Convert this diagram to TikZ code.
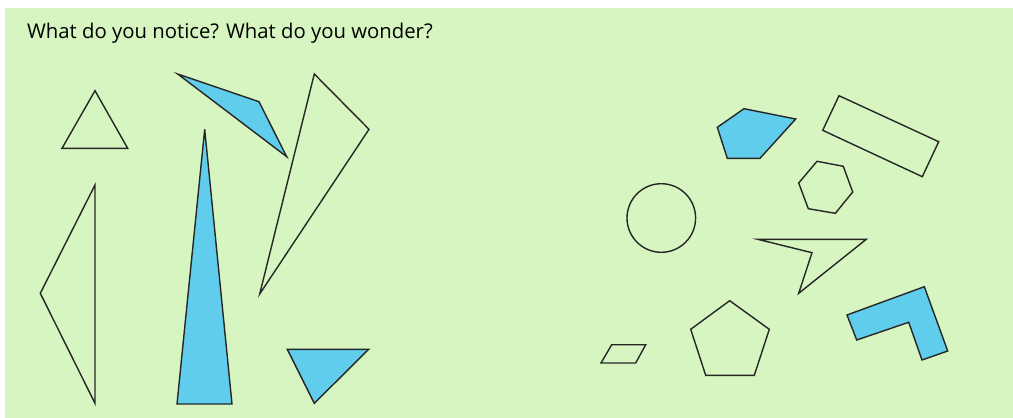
\documentclass[tikz,border=0pt]{standalone}
\usepackage{fontspec}
\setmainfont{Open Sans}
\usepackage{tikz}
\definecolor{bggreen}{RGB}{215,245,192}
\definecolor{shapeblue}{RGB}{96,205,236}

\begin{document}
\begin{tikzpicture}[x=1pt,y=-1pt,
      shp/.style={draw=black!85,line width=1.4pt,line join=miter},
      blue/.style={shp,fill=shapeblue},
      ttl/.style={anchor=base west,inner sep=0pt,font=\fontsize{20.3}{24}\selectfont}]
    \useasboundingbox (0,0) rectangle (1013,418);
    \fill[bggreen] (5,8) rectangle (1013,418);
    \node[ttl] (title) at (27,38.5) {What do you notice? What do you wonder?};
    % triangles on the left
    \draw[shp]  (95,90.7) -- (127.7,148.3) -- (62,148.3) -- cycle;
    \draw[shp]  (95,185) -- (95,403.3) -- (40.3,293.3) -- cycle;
    \draw[blue] (204.7,129.3) -- (232,404) -- (177,404) -- cycle;
    \draw[blue] (177.7,74) -- (259,101.7) -- (286.7,156.7) -- cycle;
    \draw[shp]  (314.3,74) -- (369,129.3) -- (259.7,294) -- cycle;
    \draw[blue] (287.3,349.3) -- (368.7,349.3) -- (314.3,403.3) -- cycle;
    % shapes on the right
    \draw[blue] (717.3,127.3) -- (744,108.7) -- (795.7,119) -- (760,158.3) -- (727.3,158.3) -- cycle;
    \draw[shp]  (839,95.7) -- (938.7,141.7) -- (922.3,176.7) -- (822.7,130.3) -- cycle;
    \draw[shp]  (817,161.3) -- (843.3,166.3) -- (852.7,192) -- (835.3,213.3) -- (808.3,208.7) -- (798.7,183) -- cycle;
    \draw[shp]  (661.3,218) circle[radius=34.3];
    \draw[shp]  (757.7,239.3) -- (866.3,239.3) -- (798.7,293.3) -- (812,252.7) -- cycle;
    \draw[blue] (847,315) -- (924.3,286.7) -- (947.7,351) -- (922,360) -- (908.7,322.3) -- (856.7,340) -- cycle;
    \draw[shp]  (729.7,300.7) -- (769.3,329.3) -- (754.3,375.3) -- (705.7,375.3) -- (690.7,329.3) -- cycle;
    \draw[shp]  (611.7,344.7) -- (645.7,344.7) -- (635.7,363) -- (601,363) -- cycle;
  \end{tikzpicture}
\end{document}
